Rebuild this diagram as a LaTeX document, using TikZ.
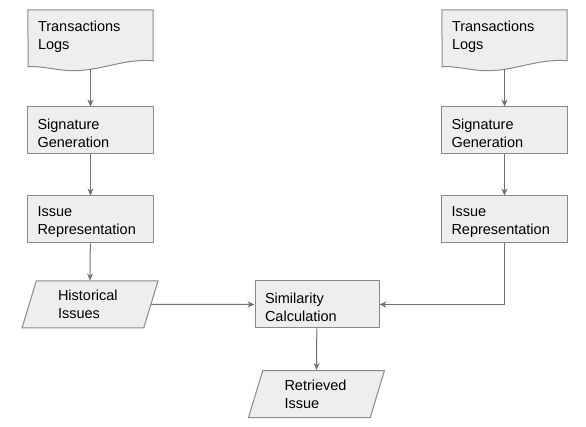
\documentclass[tikz,border=0pt]{standalone}
\usepackage{fontspec}
\setmainfont{Liberation Sans}
\usetikzlibrary{shapes.geometric,arrows.meta,backgrounds}
\definecolor{boxfill}{HTML}{EEEEEE}
\definecolor{boxline}{HTML}{8A8A8A}
\definecolor{arrowline}{HTML}{707070}
\tikzset{
  stepbox/.style={fill=boxfill,draw=boxline,line width=1pt,text width=106pt,inner xsep=10pt,inner ysep=2pt,minimum height=47pt,align=left,execute at begin node={\rule{0pt}{16pt}}},
  iobox/.style={trapezium,trapezium left angle=68,trapezium right angle=112,trapezium stretches body,fill=boxfill,draw=boxline,line width=1pt,minimum width=136pt,minimum height=47pt,text width=64pt,align=left},
  logbox/.style={text width=105pt,inner xsep=10pt,minimum height=54pt,align=left},
  logshape/.style={fill=boxfill,draw=boxline,line width=1pt},
  flow/.style={-{Stealth[length=7pt,width=6pt]},color=arrowline,line width=1pt}
}
\begin{document}
\begin{tikzpicture}[x=1pt,y=-1pt,every node/.style={font=\fontsize{14.5}{18}\selectfont}]
\useasboundingbox (0,0) rectangle (586,427);

\node (L-1) at (90.5,37) [logbox]{Transactions\\Logs};
\node (L-2) at (90.5,130.5) [stepbox]{Signature\\Generation};
\node (L-3) at (90.5,219.5) [stepbox]{Issue\\Representation};
\node (L-4) at (90,304.5) [iobox]{Historical\\Issues};

\node (R-1) at (504.5,37) [logbox]{Transactions\\Logs};
\node (R-2) at (504.5,130.5) [stepbox]{Signature\\Generation};
\node (R-3) at (504.5,219.5) [stepbox]{Issue\\Representation};

\node (C-1) at (317,304.5) [stepbox, text width=104pt]{Similarity\\Calculation};
\node (C-2) at (316.5,394) [iobox]{Retrieved\\Issue};

\begin{scope}[on background layer]
\foreach \d in {L-1,R-1}
  \draw [logshape] (\d.north west) -- (\d.north east) -- ++(0,51)
    .. controls +(-33,-3) and +(35,5) .. ++(-93,9)
    .. controls +(-15,-2) and +(7,-1) .. ++(-32,-3) -- cycle;
\end{scope}

\draw [flow] ([yshift=-5pt]L-1.south) -- (L-2);
\draw [flow] (L-2) -- (L-3);
\draw [flow] (L-3) -- (L-4.north);

\draw [flow] ([yshift=-5pt]R-1.south) -- (R-2);
\draw [flow] (R-2) -- (R-3);

\draw [flow] (L-4.east) -- (C-1);
\draw [flow] (R-3.south) |- (C-1.east);
\draw [flow] (C-1) -- (C-2.north);

\end{tikzpicture}
\end{document}
